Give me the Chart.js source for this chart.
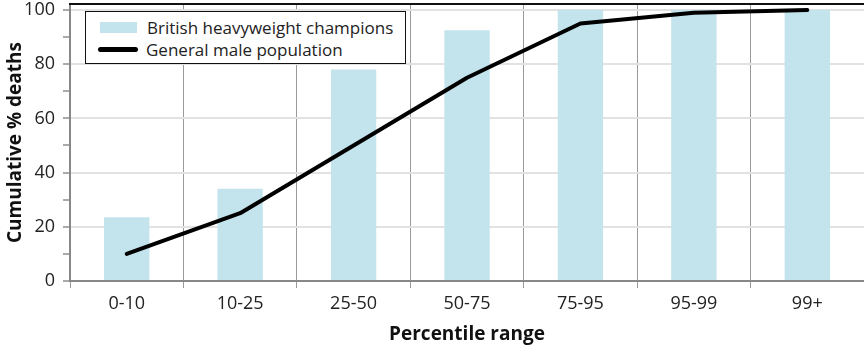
<!DOCTYPE html>
<html><head><meta charset="utf-8">
<script src="https://cdn.jsdelivr.net/npm/chart.js@4"></script>
<style>
html,body{margin:0;padding:0;background:#fff;}
#wrap{position:relative;width:864px;height:351px;}
#legend{position:absolute;left:85px;top:11px;width:321px;height:53px;border:1.5px solid #111;background:#fff;font-family:"Open Sans",sans-serif;font-size:17px;color:#222;box-sizing:border-box;}
.row{position:absolute;height:22px;display:flex;align-items:center;white-space:nowrap;}
</style></head><body>
<div id="wrap"><canvas id="c" width="864" height="351"></canvas>
<div id="legend">
<div class="row" style="top:4px;left:14px"><div style="width:37px;height:11px;background:#c3e4ec;margin-right:10px"></div>British heavyweight champions</div>
<div class="row" style="top:26px;left:12px"><div style="width:40px;height:5px;background:#000;border-radius:3px;margin-right:8px"></div>General male population</div>
</div></div>
<script>
const categories = ['0-10','10-25','25-50','50-75','75-95','95-99','99+'];
const champions = [23.5, 34, 78, 92.5, 100, 100, 100];
const population = [10, 25, 50, 75, 95, 99, 100];
const yTicks = [0, 20, 40, 60, 80, 100];

const font = '"Open Sans", sans-serif';
const topBorder = {
  id:'topBorder',
  afterDraw(chart){
    const {ctx, chartArea:a} = chart;
    ctx.save(); ctx.strokeStyle='#111'; ctx.lineWidth=2;
    ctx.beginPath(); ctx.moveTo(a.left-1, a.top); ctx.lineTo(a.right, a.top); ctx.stroke(); ctx.restore();
  }
};
new Chart(document.getElementById('c'), {
  data: {
    labels: categories,
    datasets: [
      {type:'line', data: population, borderColor:'#000', borderWidth:4, pointRadius:0, tension:0, borderCapStyle:'round', borderJoinStyle:'round', order:0},
      {type:'bar', data: champions, backgroundColor:'#c3e4ec', categoryPercentage:1, barPercentage:0.4, order:1}
    ]
  },
  plugins:[topBorder],
  options: {
    responsive:false, animation:false,
    layout:{padding:{top:4,right:0,left:0,bottom:0}},
    plugins:{legend:{display:false}, tooltip:{enabled:false}},
    scales:{
      x:{offset:true,
        grid:{offset:true,color:'#999',lineWidth:1,tickLength:7,tickColor:'#999'},
        border:{color:'#888',width:2},
        ticks:{font:{family:font,size:18},color:'#222',padding:5},
        title:{display:true,text:'Percentile range',font:{family:font,size:19,weight:'bold'},color:'#111',padding:{top:0,bottom:5}},
        afterFit:s=>{s.height=70;s.paddingLeft=0;s.paddingRight=0;}
      },
      y:{min:0,max:102.2,
        ticks:{stepSize:10,includeBounds:false,font:{family:font,size:18},color:'#222',padding:8,callback:v=>yTicks.includes(v)?String(v):''},
        grid:{color:c=>(c.tick&&c.tick.value%20===0&&c.tick.value>0)?'#e2e2e2':'rgba(0,0,0,0)',lineWidth:2,tickLength:7,tickColor:'#aaa'},
        border:{color:'#888',width:2},
        title:{display:true,text:'Cumulative % deaths',font:{family:font,size:19,weight:'bold'},color:'#111',padding:{top:4,bottom:0}},
        afterFit:s=>{s.width=70;s.paddingTop=0;s.paddingBottom=0;}
      }
    }
  }
});
</script></body></html>
